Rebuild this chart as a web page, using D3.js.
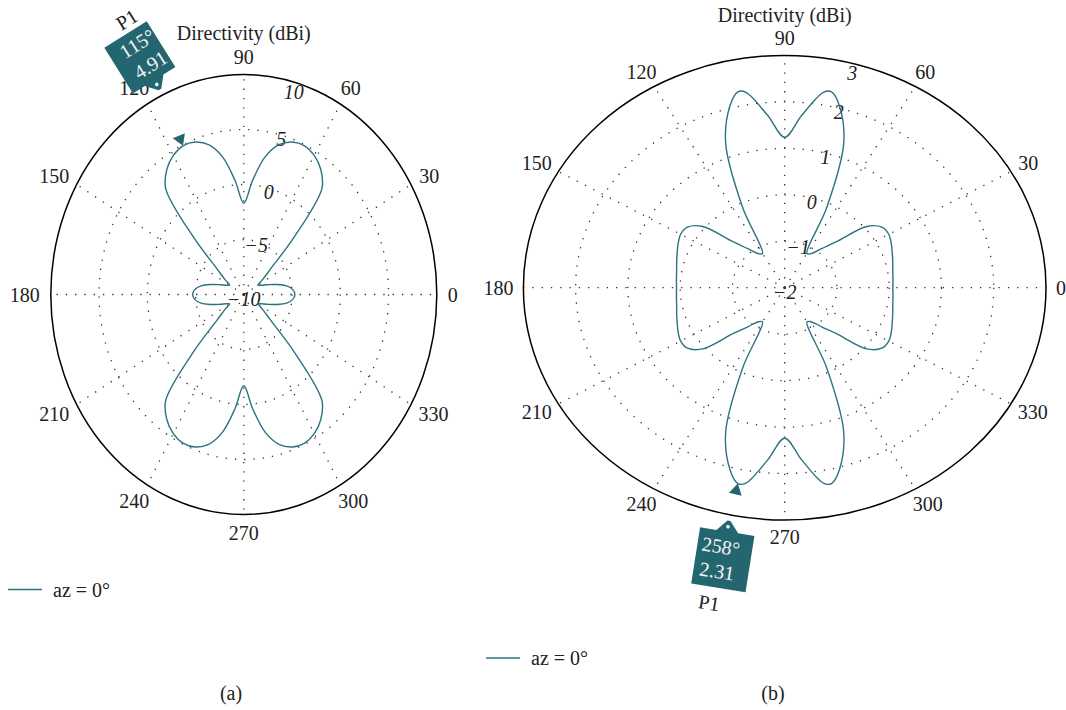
<!DOCTYPE html>
<html>
<head>
<meta charset="utf-8">
<script src="https://cdn.jsdelivr.net/npm/d3@7"></script>
<style>
  body { margin: 0; background: #fff; }
  svg text { font-family: "Liberation Serif", "Times New Roman", serif; fill: #222; }
</style>
</head>
<body>
<svg id="chart" width="1066" height="710"></svg>
<script>
// Elevation cut angles (degrees) and directivity (dBi) for pattern (a)
const anglesA = [0,5,10,15,20,25,30,35,40,45,50,55,60,65,70,75,80,85,
                 90,95,100,105,110,115,120,125,130,135,140,145,150,155,160,165,170,175,
                 180,185,190,195,200,205,210,215,220,225,230,235,240,245,250,255,260,265,
                 270,275,280,285,290,295,300,305,310,315,320,325,330,335,340,345,350,355];
const directivityA = [-4.7,-4.9,-5.5,-6.5,-7.4,-8.0,-8.3,-7.6,-6.4,-2.6,2.6,3.9,4.6,4.91,4.75,4.1,2.7,0.4,
                      -1.7,0.4,2.7,4.1,4.75,4.91,4.6,3.9,2.6,-2.6,-6.4,-7.6,-8.3,-8.0,-7.4,-6.5,-5.5,-4.9,
                      -4.7,-4.9,-5.5,-6.5,-7.4,-8.0,-8.3,-7.6,-6.4,-2.6,2.6,3.9,4.6,4.91,4.75,4.1,2.7,0.4,
                      -1.7,0.4,2.7,4.1,4.75,4.91,4.6,3.9,2.6,-2.6,-6.4,-7.6,-8.3,-8.0,-7.4,-6.5,-5.5,-4.9];
const radialTicksA = [-10, -5, 0, 5, 10];
const markerAngleA = 115;
const markerValueA = 4.91;

// Elevation cut angles (degrees) and directivity (dBi) for pattern (b)
const anglesB = [0,5,10,15,20,25,30,35,40,45,50,55,60,65,70,75,78,80,85,
                 90,95,100,102,105,110,115,120,125,130,135,140,145,150,155,160,165,170,175,
                 180,185,190,195,200,205,210,215,220,225,230,235,240,245,250,255,258,260,265,
                 270,275,280,282,285,290,295,300,305,310,315,320,325,330,335,340,345,350,355];
const directivityB = [0.07,0.08,0.10,0.14,0.19,0.25,0.3,0.27,0.05,-0.6,-0.9,-1.1,-1.15,-0.1,1.3,2.05,2.31,2.27,1.72,
                      1.24,1.72,2.27,2.31,2.05,1.3,-0.1,-1.15,-1.1,-0.9,-0.6,0.05,0.27,0.3,0.25,0.19,0.14,0.10,0.08,
                      0.07,0.08,0.10,0.14,0.19,0.25,0.3,0.27,0.05,-0.6,-0.9,-1.1,-1.15,-0.1,1.3,2.05,2.31,2.27,1.72,
                      1.24,1.72,2.27,2.31,2.05,1.3,-0.1,-1.15,-1.1,-0.9,-0.6,0.05,0.27,0.3,0.25,0.19,0.14,0.10,0.08];
const radialTicksB = [-2, -1, 0, 1, 2, 3];
const markerAngleB = 258;
const markerValueB = 2.31;

const angleTicks = [0, 30, 60, 90, 120, 150, 180, 210, 240, 270, 300, 330];
const axisTitle = "Directivity (dBi)";
const legendLabel = "az = 0°";
const markerName = "P1";

const TEAL = "#2d7280";
const TEAL_DARK = "#24666f";

const panels = [
  { angles: anglesA, values: directivityA, ticks: radialTicksA,
    mAngle: markerAngleA, mValue: markerValueA,
    cx: 243.8, cy: 294.5, rx: 193, ry: 220, gap: 11, titleY: 33,
    callout: { side: -1, rot: -32, w: 50, h: 54, textX: 5, p1x: 9, p1y: -77 },
    legend: { x: 8, y: 589.5 }, caption: { x: 231, y: 693, text: "(a)" } },
  { angles: anglesB, values: directivityB, ticks: radialTicksB,
    mAngle: markerAngleB, mValue: markerValueB,
    cx: 784.7, cy: 287.7, rx: 261.3, ry: 232.3, gap: 10, titleY: 15,
    callout: { side: 1, rot: 9, w: 55, h: 57, textX: -4, p1x: -7, p1y: 84 },
    legend: { x: 486, y: 658 }, caption: { x: 773, y: 693, text: "(b)" } }
];

const svg = d3.select("#chart");
const fmt = v => (v < 0 ? "\u2212" + Math.abs(v) : String(v));

panels.forEach(p => {
  const g = svg.append("g");
  const r = d3.scaleLinear().domain(d3.extent(p.ticks)).range([0, 1]).clamp(true);
  const toRad = d => d * Math.PI / 180;
  const px = (a, v) => p.cx + r(v) * p.rx * Math.cos(toRad(a));
  const py = (a, v) => p.cy - r(v) * p.ry * Math.sin(toRad(a));
  const maxTick = p.ticks[p.ticks.length - 1];

  // dotted rings
  g.selectAll("ellipse.ring").data(p.ticks.slice(1, -1)).join("ellipse")
    .attr("class", "ring")
    .attr("cx", p.cx).attr("cy", p.cy)
    .attr("rx", d => r(d) * p.rx).attr("ry", d => r(d) * p.ry)
    .attr("fill", "none").attr("stroke", "#333")
    .attr("stroke-width", 1.3).attr("stroke-dasharray", "1.3 8");

  // dotted spokes
  g.selectAll("line.spoke").data(angleTicks).join("line")
    .attr("class", "spoke")
    .attr("x1", p.cx).attr("y1", p.cy)
    .attr("x2", a => px(a, maxTick)).attr("y2", a => py(a, maxTick))
    .attr("stroke", "#333").attr("stroke-width", 1.3).attr("stroke-dasharray", "1.3 8");

  // outer boundary
  g.append("ellipse")
    .attr("cx", p.cx).attr("cy", p.cy).attr("rx", p.rx).attr("ry", p.ry)
    .attr("fill", "none").attr("stroke", "#000").attr("stroke-width", 1.5);

  // angle labels
  angleTicks.forEach(a => {
    const c = Math.cos(toRad(a)), s = Math.sin(toRad(a));
    const t = g.append("text").text(a)
      .attr("font-size", 20).attr("text-anchor", "middle").attr("dominant-baseline", "central");
    const w = t.node().getComputedTextLength();
    t.attr("x", p.cx + (p.rx + p.gap) * c + c * w / 2)
     .attr("y", p.cy - (p.ry + p.gap) * s - s * 7);
  });

  // radial tick labels along 75 degrees
  p.ticks.forEach((v, i) => {
    g.append("text").text(fmt(v))
      .attr("font-size", 20).attr("font-style", "italic")
      .attr("text-anchor", "middle").attr("dominant-baseline", "central")
      .attr("x", px(75, v)).attr("y", py(75, v) + (i === p.ticks.length - 1 ? 10 : 4));
  });

  // title
  g.append("text").text(axisTitle)
    .attr("font-size", 20).attr("text-anchor", "middle").attr("dominant-baseline", "central")
    .attr("x", p.cx).attr("y", p.titleY);

  // pattern curve
  const line = d3.line()
    .x((d, i) => px(p.angles[i], d))
    .y((d, i) => py(p.angles[i], d))
    .curve(d3.curveCatmullRomClosed.alpha(0.5));
  g.append("path").attr("d", line(p.values))
    .attr("fill", "none").attr("stroke", TEAL).attr("stroke-width", 1.4);

  // marker triangle pointing at the curve, aligned radially
  const mx = px(p.mAngle, p.mValue), my = py(p.mAngle, p.mValue);
  let dx = Math.cos(toRad(p.mAngle)) * p.rx, dy = -Math.sin(toRad(p.mAngle)) * p.ry;
  const n = Math.hypot(dx, dy); dx /= n; dy /= n;
  const bx = mx + dx * 11, by = my + dy * 11;
  g.append("path")
    .attr("d", `M${mx},${my}L${bx - dy * 6.5},${by + dx * 6.5}L${bx + dy * 6.5},${by - dx * 6.5}Z`)
    .attr("fill", TEAL_DARK);

  // data tip callout anchored just outside the boundary
  const ex = px(p.mAngle, maxTick) + dx * 6, ey = py(p.mAngle, maxTick) + dy * 6;
  const co = p.callout, tab = 11;
  const cg = g.append("g").attr("transform", `translate(${ex},${ey}) rotate(${co.rot})`);
  const s = co.side;
  const yEdge = s * tab, yFar = s * (tab + co.h);
  cg.append("path")
    .attr("d", `M0,0 L${-1.5},0 L${-11},${yEdge} L${-co.w / 2},${yEdge} L${-co.w / 2},${yFar}` +
               ` L${co.w / 2},${yFar} L${co.w / 2},${yEdge} L11,${yEdge} L1.5,0Z`)
    .attr("fill", TEAL_DARK);
  cg.append("circle").attr("cx", 0).attr("cy", s * 6).attr("r", 1.8).attr("fill", "#fff");
  const yc = s * (tab + co.h / 2);
  cg.append("text").text(p.mAngle + "°")
    .attr("x", co.textX).attr("y", yc - 13).attr("font-size", 20)
    .attr("text-anchor", "middle").attr("dominant-baseline", "central").style("fill", "#f2f2f2");
  cg.append("text").text(p.mValue.toFixed(2))
    .attr("x", co.textX).attr("y", yc + 12).attr("font-size", 20)
    .attr("text-anchor", "middle").attr("dominant-baseline", "central").style("fill", "#f2f2f2");
  cg.append("text").text(markerName)
    .attr("x", co.p1x).attr("y", co.p1y).attr("font-size", 20)
    .attr("text-anchor", "middle").attr("dominant-baseline", "central");

  // legend
  g.append("line")
    .attr("x1", p.legend.x).attr("x2", p.legend.x + 34)
    .attr("y1", p.legend.y).attr("y2", p.legend.y)
    .attr("stroke", TEAL).attr("stroke-width", 1.4);
  g.append("text").text(legendLabel)
    .attr("x", p.legend.x + 45).attr("y", p.legend.y).attr("font-size", 20)
    .attr("dominant-baseline", "central");

  // panel caption
  g.append("text").text(p.caption.text)
    .attr("x", p.caption.x).attr("y", p.caption.y).attr("font-size", 20)
    .attr("text-anchor", "middle").attr("dominant-baseline", "central");
});
</script>
</body>
</html>
